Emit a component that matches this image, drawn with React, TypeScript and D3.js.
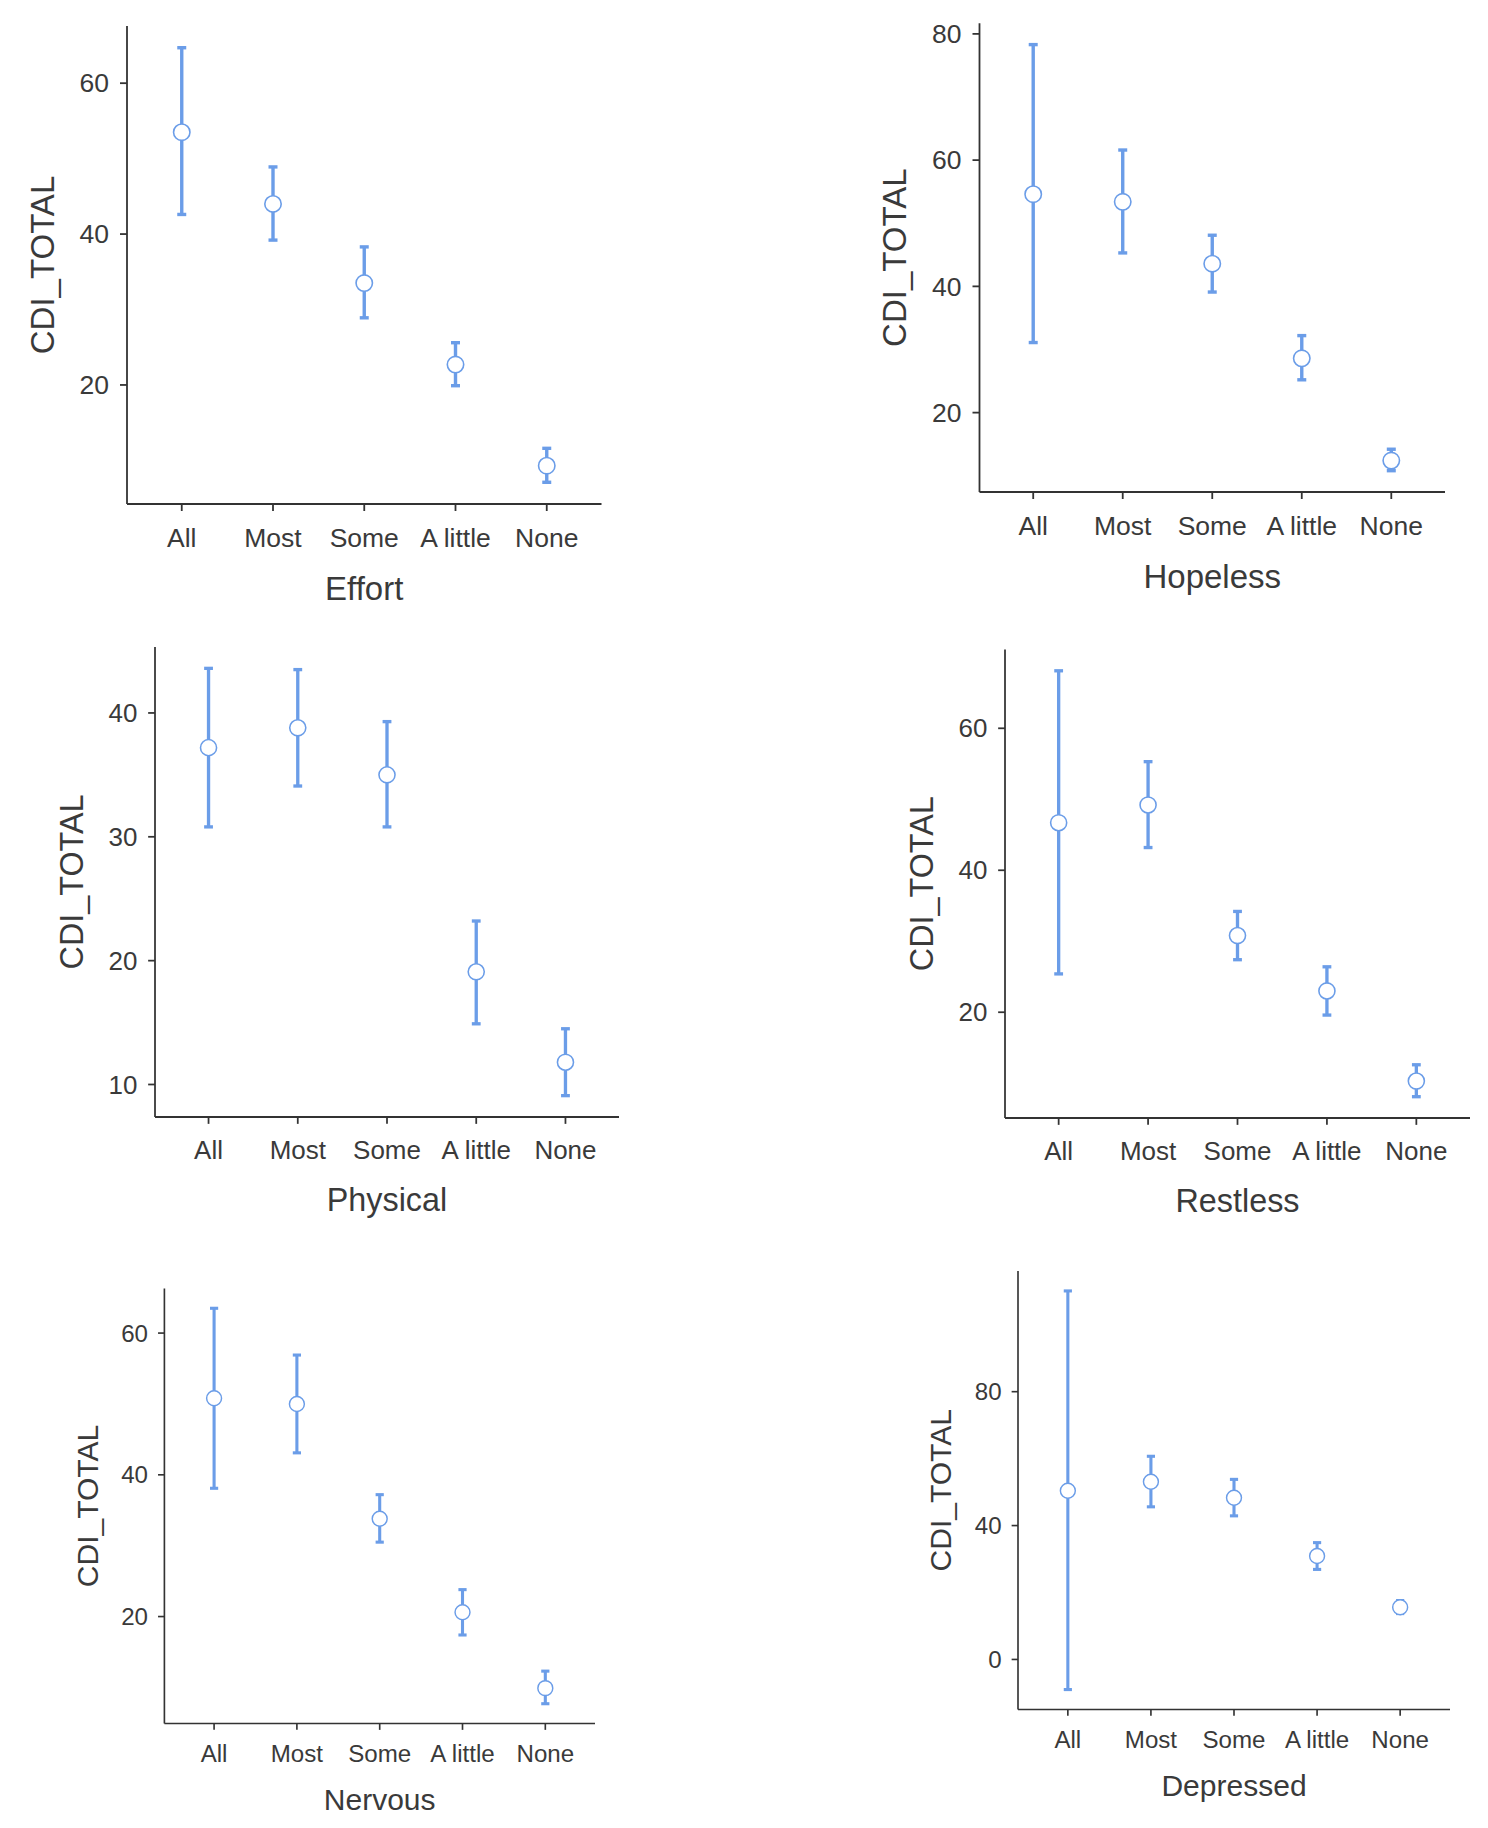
import React from "react";
import * as d3 from "d3";

// ---------- data ----------
const categories = ["All", "Most", "Some", "A little", "None"];
const yLabel = "CDI_TOTAL";

const effortMean = [53.5, 44.0, 33.5, 22.7, 9.3];
const effortLower = [42.6, 39.2, 28.9, 19.9, 7.1];
const effortUpper = [64.7, 48.9, 38.3, 25.6, 11.6];
const effortTicks = [20, 40, 60];

const hopelessMean = [54.6, 53.4, 43.6, 28.6, 12.4];
const hopelessLower = [31.1, 45.3, 39.1, 25.2, 10.8];
const hopelessUpper = [78.3, 61.6, 48.1, 32.2, 14.2];
const hopelessTicks = [20, 40, 60, 80];

const physicalMean = [37.2, 38.8, 35.0, 19.1, 11.8];
const physicalLower = [30.8, 34.1, 30.8, 14.9, 9.1];
const physicalUpper = [43.6, 43.5, 39.3, 23.2, 14.5];
const physicalTicks = [10, 20, 30, 40];

const restlessMean = [46.7, 49.2, 30.8, 23.0, 10.3];
const restlessLower = [25.4, 43.2, 27.4, 19.6, 8.1];
const restlessUpper = [68.1, 55.3, 34.2, 26.4, 12.6];
const restlessTicks = [20, 40, 60];

const nervousMean = [50.8, 50.0, 33.8, 20.6, 9.9];
const nervousLower = [38.1, 43.1, 30.5, 17.4, 7.7];
const nervousUpper = [63.5, 56.9, 37.2, 23.8, 12.3];
const nervousTicks = [20, 40, 60];

const depressedMean = [50.4, 53.1, 48.3, 30.9, 15.6];
const depressedLower = [-9.0, 45.6, 42.9, 26.9, 13.7];
const depressedUpper = [110.1, 60.7, 53.8, 34.9, 17.6];
const depressedTicks = [0, 40, 80];

// ---------- layout (positions/styles only) ----------
const panels = [
  { title: "Effort", mean: effortMean, lower: effortLower, upper: effortUpper, ticks: effortTicks,
    x0: 127, right: 601.5, top: 26, bottom: 504, k: 1 },
  { title: "Hopeless", mean: hopelessMean, lower: hopelessLower, upper: hopelessUpper, ticks: hopelessTicks,
    x0: 979.5, right: 1445, top: 23.3, bottom: 492, k: 1 },
  { title: "Physical", mean: physicalMean, lower: physicalLower, upper: physicalUpper, ticks: physicalTicks,
    x0: 155, right: 619, top: 647, bottom: 1117, k: 0.98 },
  { title: "Restless", mean: restlessMean, lower: restlessLower, upper: restlessUpper, ticks: restlessTicks,
    x0: 1005, right: 1470, top: 649.5, bottom: 1118, k: 0.98 },
  { title: "Nervous", mean: nervousMean, lower: nervousLower, upper: nervousUpper, ticks: nervousTicks,
    x0: 164.4, right: 595, top: 1288.5, bottom: 1723.5, k: 0.91 },
  { title: "Depressed", mean: depressedMean, lower: depressedLower, upper: depressedUpper, ticks: depressedTicks,
    x0: 1018, right: 1450, top: 1271, bottom: 1709.5, k: 0.91 },
];

const BLUE = "#6B9DE8";
const AXIS = "#333333";
const TEXT = "#3a3a3a";
const FONT = "'Liberation Sans', Arial, sans-serif";

function Panel({ p }: { p: (typeof panels)[number] }) {
  const k = p.k;
  const lo = d3.min(p.lower) as number;
  const hi = d3.max(p.upper) as number;
  const pad = (hi - lo) * 0.05;
  const y = d3.scaleLinear().domain([lo - pad, hi + pad]).range([p.bottom, p.top]);
  const x = d3.scalePoint<string>().domain(categories).range([p.x0, p.right]).padding(0.6);
  const tickLen = 7 * k;
  const tickFont = 26.5 * k;
  const titleFont = 33 * k;
  const capHalf = 4.5 * k;
  const r = 8.2 * k;
  const barW = 3.4 * k;
  const midY = (p.top + p.bottom) / 2;

  return (
    <g>
      {/* error bars */}
      {categories.map((c, i) => {
        const cx = x(c) as number;
        return (
          <g key={"eb" + c}>
            <line x1={cx} x2={cx} y1={y(p.lower[i])} y2={y(p.upper[i])} stroke={BLUE} strokeWidth={barW} />
            <line x1={cx - capHalf} x2={cx + capHalf} y1={y(p.lower[i])} y2={y(p.lower[i])} stroke={BLUE} strokeWidth={barW} />
            <line x1={cx - capHalf} x2={cx + capHalf} y1={y(p.upper[i])} y2={y(p.upper[i])} stroke={BLUE} strokeWidth={barW} />
          </g>
        );
      })}
      {/* points */}
      {categories.map((c, i) => (
        <circle key={"pt" + c} cx={x(c) as number} cy={y(p.mean[i])} r={r} fill="#ffffff" stroke={BLUE} strokeWidth={1.6 * k} />
      ))}
      {/* axes */}
      <line x1={p.x0} x2={p.x0} y1={p.top} y2={p.bottom} stroke={AXIS} strokeWidth={1.8 * k} />
      <line x1={p.x0} x2={p.right} y1={p.bottom} y2={p.bottom} stroke={AXIS} strokeWidth={1.8 * k} />
      {p.ticks.map((t) => (
        <g key={"yt" + t}>
          <line x1={p.x0 - tickLen} x2={p.x0} y1={y(t)} y2={y(t)} stroke={AXIS} strokeWidth={1.8 * k} />
          <text x={p.x0 - tickLen - 11 * k} y={y(t)} dy="0.35em" textAnchor="end" fontSize={tickFont} fill={TEXT} fontFamily={FONT}>
            {t}
          </text>
        </g>
      ))}
      {categories.map((c) => (
        <g key={"xt" + c}>
          <line x1={x(c) as number} x2={x(c) as number} y1={p.bottom} y2={p.bottom + tickLen} stroke={AXIS} strokeWidth={1.8 * k} />
          <text x={x(c) as number} y={p.bottom + 33.5 * k} dy="0.35em" textAnchor="middle" fontSize={tickFont} fill={TEXT} fontFamily={FONT}>
            {c}
          </text>
        </g>
      ))}
      {/* titles */}
      <text x={(p.x0 + p.right) / 2} y={p.bottom + 84 * k} dy="0.35em" textAnchor="middle" fontSize={titleFont} fill={TEXT} fontFamily={FONT}>
        {p.title}
      </text>
      <text transform={`translate(${p.x0 - 85 * k},${midY}) rotate(-90)`} dy="0.35em" textAnchor="middle" fontSize={titleFont} fill={TEXT} fontFamily={FONT}>
        {yLabel}
      </text>
    </g>
  );
}

export default function App() {
  return (
    <div style={{ position: "absolute", left: 0, top: 0, background: "#ffffff" }}>
      <svg width={1488} height={1828} viewBox="0 0 1488 1828" style={{ display: "block" }}>
        <rect width={1488} height={1828} fill="#ffffff" />
        {panels.map((p) => (
          <Panel key={p.title} p={p} />
        ))}
      </svg>
    </div>
  );
}
